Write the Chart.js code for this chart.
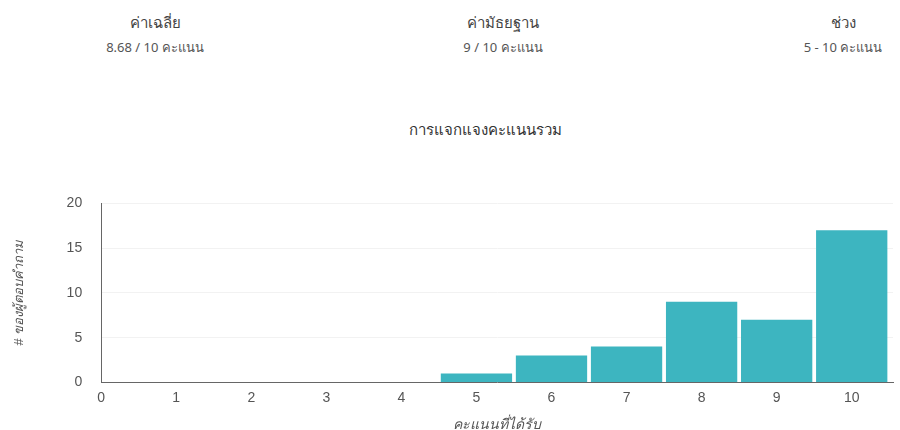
<!DOCTYPE html>
<html lang="th">
<head>
    <meta charset="UTF-8">
    <title>การแจกแจงคะแนนรวม</title>
    <script src="https://cdn.jsdelivr.net/npm/chart.js"></script>
    <style>
        body { margin: 0; width: 900px; height: 430px; background: #fff; font-family: "Noto Sans", "DejaVu Sans", sans-serif; overflow: hidden; position: relative; }
        .stat { position: absolute; top: 9px; text-align: center; color: #444; }
        .stat .head { font-size: 15px; line-height: 26px; }
        .stat .val { font-size: 13px; line-height: 24px; color: #555; }
        #title { position: absolute; top: 118px; left: 0; width: 970px; text-align: center; font-size: 15px; color: #333; }
        #chart-box { position: absolute; left: 0; top: 176px; width: 900px; height: 258px; }
    </style>
</head>
<body>
    <div class="stat" style="left:55px;width:200px"><div class="head">ค่าเฉลี่ย</div><div class="val">8.68 / 10 คะแนน</div></div>
    <div class="stat" style="left:403px;width:200px"><div class="head">ค่ามัธยฐาน</div><div class="val">9 / 10 คะแนน</div></div>
    <div class="stat" style="left:743px;width:200px"><div class="head">ช่วง</div><div class="val">5 - 10 คะแนน</div></div>
    <div id="title">การแจกแจงคะแนนรวม</div>
    <div id="chart-box"><canvas id="graph-canvas"></canvas></div>

    <script>
        // คะแนน และ จำนวนผู้ตอบ
        const scores = [0, 1, 2, 3, 4, 5, 6, 7, 8, 9, 10];
        const counts = [0, 0, 0, 0, 0, 1, 3, 4, 9, 7, 17];
        const yTicks = [0, 5, 10, 15, 20];

        const points = scores.map((s, i) => ({ x: s, y: counts[i] }));

        new Chart(document.getElementById('graph-canvas'), {
            type: 'bar',
            data: {
                datasets: [{
                    data: points,
                    backgroundColor: '#3db5c0',
                    barPercentage: 1,
                    categoryPercentage: 0.95
                }]
            },
            options: {
                responsive: true,
                maintainAspectRatio: false,
                animation: false,
                layout: { padding: { left: 8, right: 7, top: 4, bottom: 0 } },
                plugins: { legend: { display: false }, tooltip: { enabled: false } },
                scales: {
                    x: {
                        type: 'linear',
                        min: 0,
                        max: 10.55,
                        offset: false,
                        afterBuildTicks: (scale) => {
                            scale.ticks = scores.map(v => ({ value: v }));
                        },
                        ticks: { stepSize: 1, color: '#555', font: { size: 14 }, padding: 7 },
                        grid: { display: false, drawTicks: false },
                        border: { display: true, color: '#666', width: 1 },
                        title: { display: true, text: 'คะแนนที่ได้รับ', color: '#555', font: { size: 14, style: 'italic' }, padding: { top: 4, bottom: 0 } }
                    },
                    y: {
                        min: 0,
                        max: 20,
                        afterBuildTicks: (scale) => {
                            scale.ticks = yTicks.map(v => ({ value: v }));
                        },
                        ticks: { color: '#555', font: { size: 14 }, padding: 19 },
                        grid: { color: '#f2f2f2', drawTicks: false },
                        border: { display: true, color: '#666', width: 1, dash: [] },
                        title: { display: true, text: '# ของผู้ตอบคำถาม', color: '#555', font: { size: 13, style: 'italic' }, padding: { bottom: 20 } }
                    }
                }
            }
        });
    </script>
</body>
</html>
